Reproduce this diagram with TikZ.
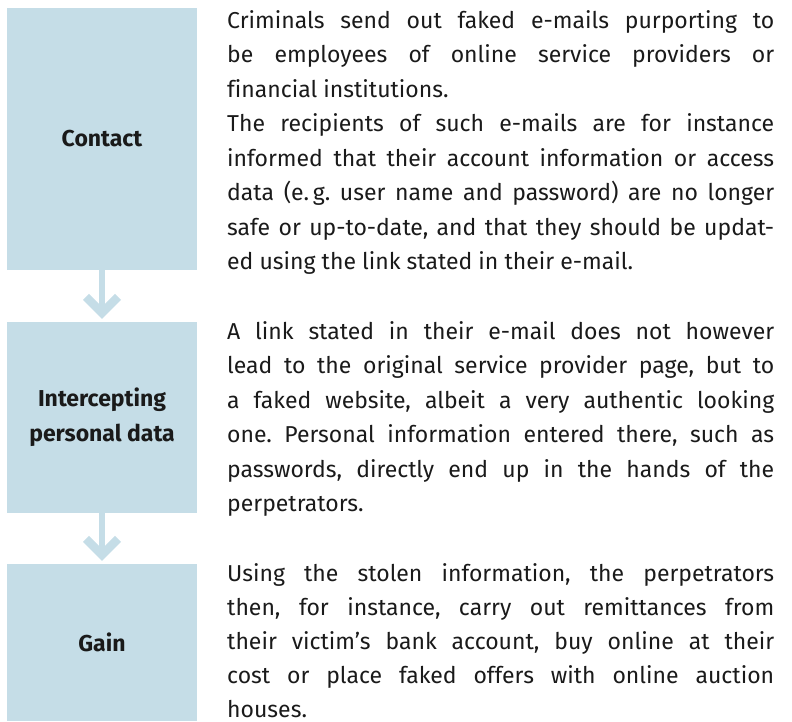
\documentclass[tikz,border=0pt]{standalone}
\usepackage{fontspec}
\setmainfont{Fira Sans}[Ligatures=NoCommon]
\usetikzlibrary{calc}
\definecolor{boxblue}{HTML}{C5DDE7}
\definecolor{ink}{HTML}{1A1A1A}
\setlength{\parindent}{0pt}
\tolerance=10000
\hyphenpenalty=10000
\exhyphenpenalty=10000
\frenchspacing
\begin{document}
\begin{tikzpicture}[x=1pt,y=-1pt,
  stepbox/.style={fill=boxblue, draw=none, minimum width=190pt, inner sep=0pt,
    align=center, text=ink, font=\bfseries\fontsize{23}{35}\selectfont},
  desc/.style={anchor=base west, inner sep=0pt, text width=547pt, align=justify, text=ink,
    font=\fontsize{23}{34.5}\selectfont},
  conn/.style={draw=boxblue, line width=6.7pt},
  chev/.style={fill=boxblue, draw=none}
]
\useasboundingbox (0,0) rectangle (792,721);

\node[stepbox, minimum height=262pt] (b1) at (102,139) {Contact};
\node[stepbox, minimum height=191pt] (b2) at (102,417.5) {Intercepting\\personal data};
\node[stepbox, minimum height=157pt] (b3) at (102,642.5) {Gain};

\draw[conn] (b1.south) -- ($(b2.north)+(0,-8)$);
\fill[chev] ($(b2.north)+(0,-3)$) -- ++(-19,-19) -- ++(6,-6) -- ++(13,13) -- ++(13,-13) -- ++(6,6) -- cycle;
\draw[conn] (b2.south) -- ($(b3.north)+(0,-8)$);
\fill[chev] ($(b3.north)+(0,-3)$) -- ++(-19,-19) -- ++(6,-6) -- ++(13,13) -- ++(13,-13) -- ++(6,6) -- cycle;

\node[desc] (t1) at (227,28) {Criminals send out faked e-mails purporting to\linebreak
be employees of online service providers or\linebreak
financial institutions.\par
The recipients of such e-mails are for instance\linebreak
informed that their account information or access\linebreak
data (e.\,g. user name and password) are no longer\linebreak
safe or up-to-date, and that they should be updat-\linebreak
ed using the link stated in their e-mail.};

\node[desc] (t2) at (227,339) {A link stated in their e-mail does not however\linebreak
lead to the original service provider page, but to\linebreak
a faked website, albeit a very authentic looking\linebreak
one. Personal information entered there, such as\linebreak
passwords, directly end up in the hands of the\linebreak
perpetrators.};

\node[desc, font=\fontsize{23}{34}\selectfont] (t3) at (227,581) {Using the stolen information, the perpetrators\linebreak
then, for instance, carry out remittances from\linebreak
their victim's bank account, buy online at their\linebreak
cost or place faked offers with online auction\linebreak
houses.};
\end{tikzpicture}
\end{document}
